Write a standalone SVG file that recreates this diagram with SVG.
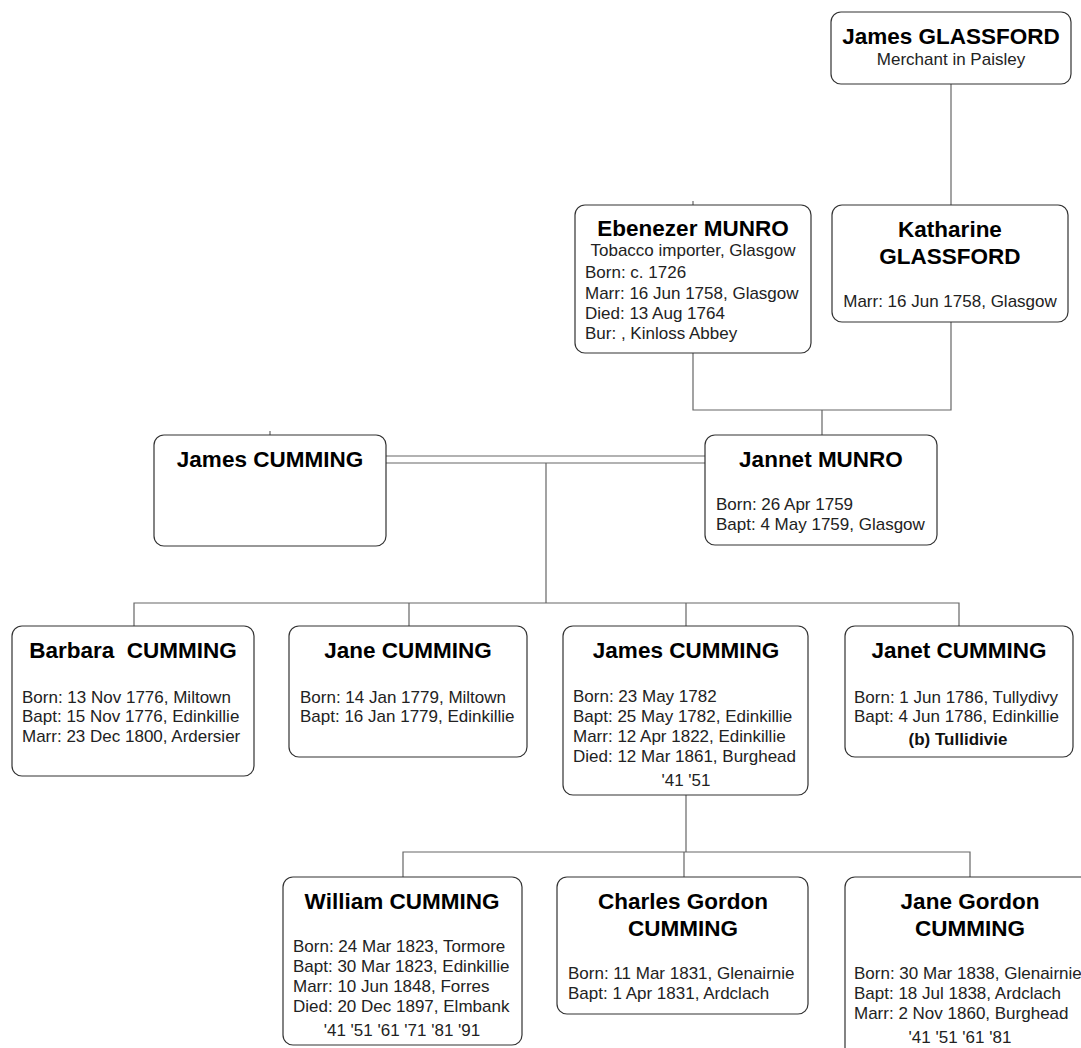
<svg xmlns="http://www.w3.org/2000/svg" width="1081" height="1048" viewBox="0 0 1081 1048">
<style>
.box{fill:#fff;stroke:#333;stroke-width:1.2}
.con{fill:none;stroke:#666;stroke-width:1.2}
.nm{font-family:"Liberation Sans",Arial,sans-serif;font-weight:bold;font-size:22.5px;fill:#000;text-anchor:middle}
.dt{font-family:"Liberation Sans",Arial,sans-serif;font-size:17px;fill:#222}
.dc{font-family:"Liberation Sans",Arial,sans-serif;font-size:17px;fill:#222;text-anchor:middle}
.bd{font-family:"Liberation Sans",Arial,sans-serif;font-size:17px;font-weight:bold;fill:#111;text-anchor:middle}
</style>
<rect width="1081" height="1048" fill="#fff"/>
<g id="connectors">
<path class="con" d="M951 84V205"/>
<path class="con" d="M693 201V205"/>
<path class="con" d="M270 431V435"/>
<path class="con" d="M693 353V410H951V322M822 410V435"/>
<path class="con" d="M386 456H705M386 463H705"/>
<path class="con" d="M546 463V603M134 626V603H959V626M409 603V626M686 603V626"/>
<path class="con" d="M686 795V852M403 877V852H970V877M684 852V877"/>
</g>
<g id="james-glassford">
<rect class="box" x="831" y="12" width="240" height="72" rx="10"/>
<text class="nm" x="951" y="44">James GLASSFORD</text>
<text class="dc" x="951" y="65">Merchant in Paisley</text>
</g>
<g id="ebenezer-munro">
<rect class="box" x="575" y="205" width="236" height="148" rx="10"/>
<text class="nm" x="693" y="236">Ebenezer MUNRO</text>
<text class="dc" x="693" y="256">Tobacco importer, Glasgow</text>
<text class="dt" x="585" y="278">Born: c. 1726</text>
<text class="dt" x="585" y="299">Marr: 16 Jun 1758, Glasgow</text>
<text class="dt" x="585" y="319">Died: 13 Aug 1764</text>
<text class="dt" x="585" y="339">Bur: , Kinloss Abbey</text>
</g>
<g id="katharine-glassford">
<rect class="box" x="832" y="205" width="236" height="117" rx="10"/>
<text class="nm" x="950" y="237">Katharine</text>
<text class="nm" x="950" y="264">GLASSFORD</text>
<text class="dc" x="950" y="307">Marr: 16 Jun 1758, Glasgow</text>
</g>
<g id="james-cumming-sr">
<rect class="box" x="154" y="435" width="232" height="111" rx="10"/>
<text class="nm" x="270" y="467">James CUMMING</text>
</g>
<g id="jannet-munro">
<rect class="box" x="705" y="435" width="232" height="110" rx="10"/>
<text class="nm" x="821" y="467">Jannet MUNRO</text>
<text class="dt" x="716" y="510">Born: 26 Apr 1759</text>
<text class="dt" x="716" y="530">Bapt: 4 May 1759, Glasgow</text>
</g>
<g id="barbara-cumming">
<rect class="box" x="12" y="626" width="242" height="150" rx="10"/>
<text class="nm" x="133" y="658">Barbara&#160; CUMMING</text>
<text class="dt" x="22" y="703">Born: 13 Nov 1776, Miltown</text>
<text class="dt" x="22" y="722">Bapt: 15 Nov 1776, Edinkillie</text>
<text class="dt" x="22" y="742">Marr: 23 Dec 1800, Ardersier</text>
</g>
<g id="jane-cumming">
<rect class="box" x="289" y="626" width="238" height="131" rx="10"/>
<text class="nm" x="408" y="658">Jane CUMMING</text>
<text class="dt" x="300" y="703">Born: 14 Jan 1779, Miltown</text>
<text class="dt" x="300" y="722">Bapt: 16 Jan 1779, Edinkillie</text>
</g>
<g id="james-cumming">
<rect class="box" x="563" y="626" width="245" height="169" rx="10"/>
<text class="nm" x="686" y="658">James CUMMING</text>
<text class="dt" x="573" y="702">Born: 23 May 1782</text>
<text class="dt" x="573" y="722">Bapt: 25 May 1782, Edinkillie</text>
<text class="dt" x="573" y="742">Marr: 12 Apr 1822, Edinkillie</text>
<text class="dt" x="573" y="762">Died: 12 Mar 1861, Burghead</text>
<text class="dc" x="686" y="786">'41 '51</text>
</g>
<g id="janet-cumming">
<rect class="box" x="845" y="626" width="228" height="131" rx="10"/>
<text class="nm" x="959" y="658">Janet CUMMING</text>
<text class="dt" x="854" y="703">Born: 1 Jun 1786, Tullydivy</text>
<text class="dt" x="854" y="722">Bapt: 4 Jun 1786, Edinkillie</text>
<text class="bd" x="958" y="745">(b) Tullidivie</text>
</g>
<g id="william-cumming">
<rect class="box" x="283" y="877" width="239" height="168" rx="10"/>
<text class="nm" x="402" y="909">William CUMMING</text>
<text class="dt" x="293" y="952">Born: 24 Mar 1823, Tormore</text>
<text class="dt" x="293" y="972">Bapt: 30 Mar 1823, Edinkillie</text>
<text class="dt" x="293" y="992">Marr: 10 Jun 1848, Forres</text>
<text class="dt" x="293" y="1012">Died: 20 Dec 1897, Elmbank</text>
<text class="dc" x="402" y="1036">'41 '51 '61 '71 '81 '91</text>
</g>
<g id="charles-gordon-cumming">
<rect class="box" x="557" y="877" width="251" height="137" rx="10"/>
<text class="nm" x="683" y="909">Charles Gordon</text>
<text class="nm" x="683" y="936">CUMMING</text>
<text class="dt" x="568" y="979">Born: 11 Mar 1831, Glenairnie</text>
<text class="dt" x="568" y="999">Bapt: 1 Apr 1831, Ardclach</text>
</g>
<g id="jane-gordon-cumming">
<rect class="box" x="845" y="877" width="250" height="180" rx="10"/>
<text class="nm" x="970" y="909">Jane Gordon</text>
<text class="nm" x="970" y="936">CUMMING</text>
<text class="dt" x="854" y="979">Born: 30 Mar 1838, Glenairnie</text>
<text class="dt" x="854" y="999">Bapt: 18 Jul 1838, Ardclach</text>
<text class="dt" x="854" y="1019">Marr: 2 Nov 1860, Burghead</text>
<text class="dc" x="960" y="1043">'41 '51 '61 '81</text>
</g>
</svg>
